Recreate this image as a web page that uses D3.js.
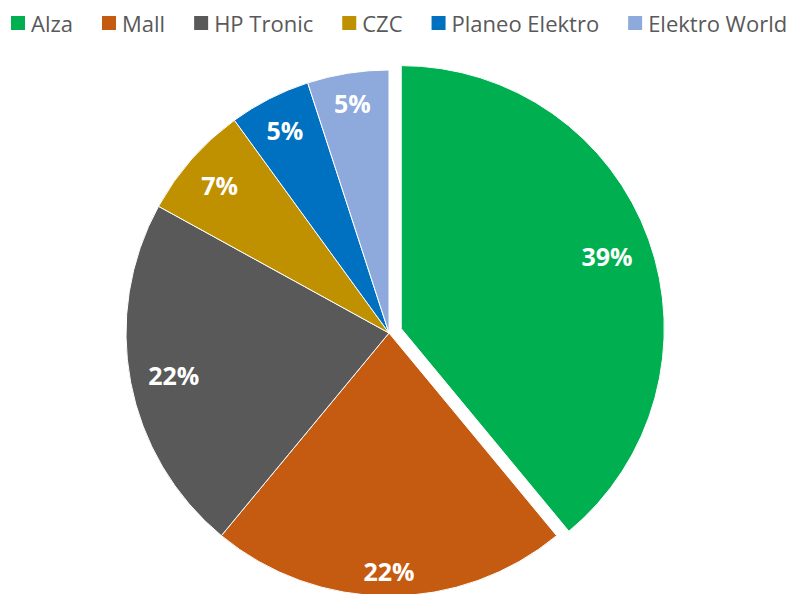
<!DOCTYPE html>
<html>
<head>
<meta charset="utf-8">
<script src="https://cdn.jsdelivr.net/npm/d3@7"></script>
<style>
  body { margin: 0; background: #fff; }
</style>
</head>
<body>
<svg id="chart" width="806" height="594"></svg>
<script>
const shops = ["Alza", "Mall", "HP Tronic", "CZC", "Planeo Elektro", "Elektro World"];
const shares = [39, 22, 22, 7, 5, 5];
const colors = ["#00B050", "#C55A11", "#595959", "#BF9000", "#0070C0", "#8EA9DB"];

const width = 806;
const height = 594;
const cx = 389, cy = 333;
const radius = 263;
const explode = 13;
const font = "'Open Sans', 'Liberation Sans', sans-serif";

const svg = d3.select("#chart");

const data = shops.map((name, i) => ({ name, value: shares[i], color: colors[i] }));

const pie = d3.pie().value(d => d.value).sort(null);
const arcs = pie(data);

const arc = d3.arc().innerRadius(0).outerRadius(radius);

// offset of a slice (only Alza is pulled out)
const offset = (d, i) => {
  const k = i === 0 ? explode : 0;
  const a = (d.startAngle + d.endAngle) / 2;
  return [Math.sin(a) * k, -Math.cos(a) * k];
};

const g = svg.append("g").attr("transform", `translate(${cx},${cy})`);

const slice = g.selectAll("g.slice")
  .data(arcs)
  .join("g")
  .attr("class", "slice")
  .attr("transform", (d, i) => {
    const [ox, oy] = offset(d, i);
    return `translate(${ox},${oy})`;
  });

slice.append("path")
  .attr("d", arc)
  .attr("fill", d => d.data.color)
  .attr("stroke", "#fff")
  .attr("stroke-width", 1);

// labels, placed "inside end"
const pad = 17;
slice.append("text")
  .attr("text-anchor", "middle")
  .attr("dominant-baseline", "central")
  .attr("font-family", font)
  .attr("font-weight", "bold")
  .attr("font-size", "25px")
  .attr("fill", "#fff")
  .text(d => d.data.value + "%")
  .each(function(d) {
    const box = this.getBBox();
    const a = (d.startAngle + d.endAngle) / 2;
    const sx = Math.sin(a), sy = -Math.cos(a);
    const half = Math.abs(sx) * box.width / 2 + Math.abs(sy) * 9.5;
    const r = radius - pad - half;
    d3.select(this).attr("x", sx * r).attr("y", sy * r + 1);
  });

// legend
const legend = svg.append("g").attr("transform", "translate(11,23)");
let lx = 0;
data.forEach(d => {
  const item = legend.append("g").attr("transform", `translate(${lx},0)`);
  item.append("rect")
    .attr("x", 0).attr("y", -7)
    .attr("width", 14).attr("height", 14)
    .attr("fill", d.color);
  const t = item.append("text")
    .attr("x", 20)
    .attr("y", 0)
    .attr("dominant-baseline", "central")
    .attr("font-family", font)
    .attr("font-size", "22px")
    .attr("fill", "#595959")
    .text(d.name);
  lx += 20 + t.node().getComputedTextLength() + 29;
});
</script>
</body>
</html>
